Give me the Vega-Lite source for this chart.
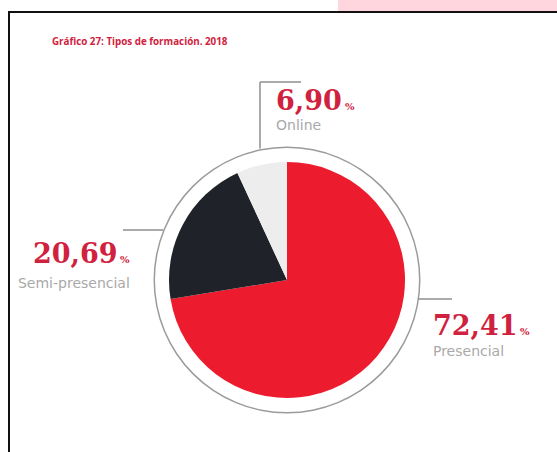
{
  "$schema": "https://vega.github.io/schema/vega-lite/v6.json",
  "width": 556,
  "height": 536,
  "autosize": {"type": "none"},
  "padding": {"left": 9, "top": 12, "right": 0, "bottom": 0},
  "background": "white",
  "config": {"view": {"stroke": "#111111", "strokeWidth": 2}},
  "datasets": {
    "tipos": [
      {"tipo": "Presencial", "pct": 72.41, "orden": 1},
      {"tipo": "Semi-presencial", "pct": 20.69, "orden": 2},
      {"tipo": "Online", "pct": 6.90, "orden": 3}
    ],
    "anillo": [{"v": 100}],
    "banda": [{"x": 43.2, "x2": 240, "y": 228, "y2": 240}],
    "guias": [
      {"x": -22.9, "y": 111.5, "x2": -22.9, "y2": 167.8},
      {"x": -22.9, "y": 167.8, "x2": 11.9, "y2": 167.8},
      {"x": -139, "y": 42.4, "x2": -105, "y2": 42.4},
      {"x": 111, "y": -16.1, "x2": 139.8, "y2": -16.1}
    ],
    "etiquetas": [
      {"tipo": "Online", "valor": "6,90", "nx": -9.3, "ny": 144.1, "px": 49.2, "sx": -9.3, "sy": 127.1},
      {"tipo": "Semi-presencial", "valor": "20,69", "nx": -215.3, "ny": 14.4, "px": -141.5, "sx": -228, "sy": -6.8},
      {"tipo": "Presencial", "valor": "72,41", "nx": 123.7, "ny": -46.6, "px": 197.5, "sx": 123.7, "sy": -64.4}
    ],
    "titulo": [{"texto": "Gráfico 27: Tipos de formación. 2018", "x": -199.2, "y": 201.7}]
  },
  "layer": [
    {
      "data": {"name": "banda"},
      "mark": {"type": "rect", "color": "#ffd6dd"},
      "encoding": {
        "x": {"field": "x", "type": "quantitative", "scale": {"domain": [-235.6, 235.6]}, "axis": null},
        "x2": {"field": "x2"},
        "y": {"field": "y", "type": "quantitative", "scale": {"domain": [-227.1, 227.1]}, "axis": null},
        "y2": {"field": "y2"}
      }
    },
    {
      "data": {"name": "anillo"},
      "mark": {"type": "arc", "radius": 133.5, "radius2": 132, "color": "#9b9b9b"},
      "encoding": {
        "theta": {"field": "v", "type": "quantitative"}
      }
    },
    {
      "data": {"name": "tipos"},
      "mark": {"type": "arc", "radius": 118},
      "encoding": {
        "theta": {"field": "pct", "type": "quantitative", "stack": true},
        "order": {"field": "orden", "type": "quantitative"},
        "color": {
          "field": "tipo",
          "type": "nominal",
          "scale": {"domain": ["Presencial", "Semi-presencial", "Online"], "range": ["#ec1c2e", "#1f2229", "#ededed"]},
          "legend": null
        }
      }
    },
    {
      "data": {"name": "guias"},
      "mark": {"type": "rule", "color": "#8f8f8f", "strokeWidth": 1.5},
      "encoding": {
        "x": {"field": "x", "type": "quantitative", "scale": {"domain": [-235.6, 235.6]}, "axis": null},
        "x2": {"field": "x2"},
        "y": {"field": "y", "type": "quantitative", "scale": {"domain": [-227.1, 227.1]}, "axis": null},
        "y2": {"field": "y2"}
      }
    },
    {
      "data": {"name": "etiquetas"},
      "mark": {"type": "text", "font": "DejaVu Serif", "fontWeight": "bold", "fontSize": 27, "color": "#d0223e", "align": "left", "baseline": "alphabetic"},
      "encoding": {
        "x": {"field": "nx", "type": "quantitative", "scale": {"domain": [-235.6, 235.6]}, "axis": null},
        "y": {"field": "ny", "type": "quantitative", "scale": {"domain": [-227.1, 227.1]}, "axis": null},
        "text": {"field": "valor"}
      }
    },
    {
      "data": {"name": "etiquetas"},
      "mark": {"type": "text", "font": "DejaVu Serif", "fontWeight": "bold", "fontSize": 10, "color": "#d0223e", "align": "left", "baseline": "alphabetic", "text": "%"},
      "encoding": {
        "x": {"field": "px", "type": "quantitative", "scale": {"domain": [-235.6, 235.6]}, "axis": null},
        "y": {"field": "ny", "type": "quantitative", "scale": {"domain": [-227.1, 227.1]}, "axis": null}
      }
    },
    {
      "data": {"name": "etiquetas"},
      "mark": {"type": "text", "font": "DejaVu Sans", "fontSize": 14, "color": "#a9a9a9", "align": "left", "baseline": "alphabetic"},
      "encoding": {
        "x": {"field": "sx", "type": "quantitative", "scale": {"domain": [-235.6, 235.6]}, "axis": null},
        "y": {"field": "sy", "type": "quantitative", "scale": {"domain": [-227.1, 227.1]}, "axis": null},
        "text": {"field": "tipo"}
      }
    },
    {
      "data": {"name": "titulo"},
      "mark": {"type": "text", "font": "Open Sans", "fontWeight": "bold", "fontSize": 9.8, "color": "#d0223e", "align": "left", "baseline": "middle"},
      "encoding": {
        "x": {"field": "x", "type": "quantitative", "scale": {"domain": [-235.6, 235.6]}, "axis": null},
        "y": {"field": "y", "type": "quantitative", "scale": {"domain": [-227.1, 227.1]}, "axis": null},
        "text": {"field": "texto"}
      }
    }
  ]
}
